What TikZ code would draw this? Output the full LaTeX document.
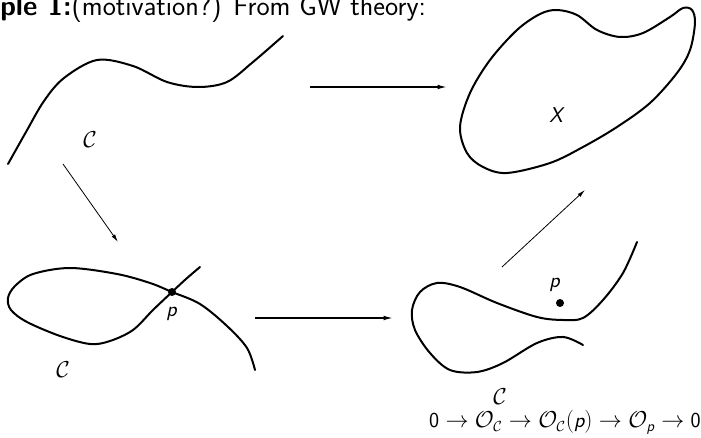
\documentclass[tikz,border=0pt]{standalone}
\usepackage{amsmath}
\usepackage{amssymb}
\usepackage{fontspec}
\usepackage{xcolor}
\usepackage{tikz}
\usetikzlibrary{arrows.meta}
\renewcommand{\familydefault}{\sfdefault}
\newcommand{\ptp}{\textit{p}}

\begin{document}
\begin{tikzpicture}[x=0.75pt, y=-0.75pt,
  curve/.style={line width=1.5pt, line cap=round, line join=round},
  longarrow/.style={line width=1.1pt, -{Latex[length=7pt,width=3.5pt]}},
  thinarrow/.style={line width=0.6pt, -{Latex[length=6pt,width=3pt]}},
  lbl/.style={font=\fontsize{16}{18}\selectfont, inner sep=0pt},
  dot/.style={circle, fill, inner sep=0pt, minimum size=6pt}
]
  \useasboundingbox (0,0) rectangle (701,438);

  \node[anchor=base west, inner sep=0pt, font=\fontsize{21}{24}\selectfont] (title) at (0,16)
    {\textbf{ple 1:}(motivation?) From GW theory:};

  % the map C -> X
  \draw[curve] plot[smooth, tension=0.55] coordinates {(8,164) (26,132) (44,101) (64,78) (97,60)
    (133,66) (167,82) (198,87) (227,82) (253,62) (283,36)};
  \node[lbl] (c1) at (90,140) {$\mathcal{C}$};

  \draw[curve] plot[smooth cycle, tension=0.55] coordinates {(557,10) (577,15) (597,30) (620,37)
    (643,33) (670,17) (683,8) (692,10) (695,23) (690,50) (677,73) (650,103) (617,127) (583,147)
    (550,163) (507,173) (483,167) (467,153) (460,127) (470,93) (490,60) (517,30) (540,14)};
  \node[lbl] (x) at (557,115) {\textit{X}};

  % nodal curve
  \draw[curve] plot[smooth, tension=0.55] coordinates {(200,267) (186,279) (172,292) (153,310)
    (133,330) (110,341) (90,344) (60,336) (27,322) (11,310) (8,298) (15,286) (33,274) (70,268)
    (117,274) (150,283) (172,292) (200,304) (227,326) (247,348) (255,370)};
  \node[dot] (p1) at (172,292) {};
  \node[lbl] (p1l) at (172,314) {\ptp};
  \node[lbl] (c2) at (63,370) {$\mathcal{C}$};

  % normalisation
  \draw[curve] plot[smooth, tension=0.55] coordinates {(637,242) (623,273) (603,300) (583,318)
    (563,320) (537,317) (497,303) (460,287) (437,283) (420,292) (412,310) (415,330) (430,353)
    (450,370) (477,372) (503,363) (537,343) (563,337) (583,345)};
  \node[dot] (p2) at (560,303) {};
  \node[lbl] (p2l) at (555,285) {\ptp};
  \node[lbl] (c3) at (500,397) {$\mathcal{C}$};

  \node[lbl, anchor=base east] (seq) at (701,428)
    {$\mathsf{0} \to \mathcal{O}_{\mathcal{C}} \to \mathcal{O}_{\mathcal{C}}(\ptp) \to \mathcal{O}_{\ptp} \to \mathsf{0}$};

  \coordinate (a1) at (310,87);
  \coordinate (b1) at (447,87);
  \coordinate (a2) at (63,164);
  \coordinate (b2) at (118,242);
  \coordinate (a3) at (255,318);
  \coordinate (b3) at (393,318);
  \coordinate (a4) at (502,267);
  \coordinate (b4) at (585,190);

  \draw[longarrow] (a1) -- (b1);
  \draw[thinarrow] (a2) -- (b2);
  \draw[longarrow] (a3) -- (b3);
  \draw[thinarrow] (a4) -- (b4);
\end{tikzpicture}
\end{document}
